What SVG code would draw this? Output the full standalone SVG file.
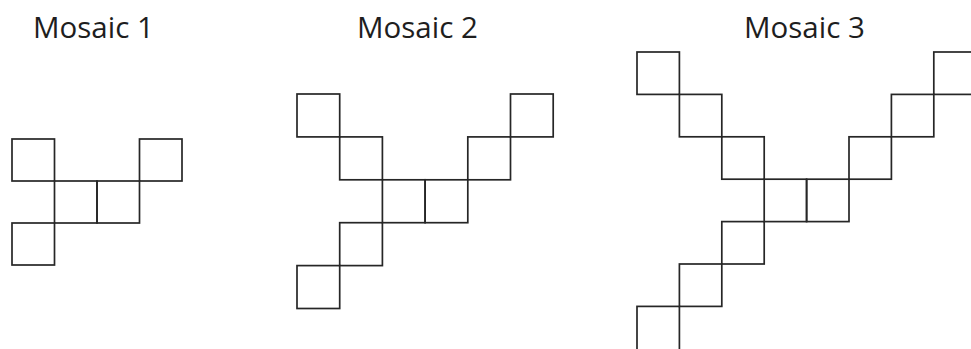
<svg xmlns="http://www.w3.org/2000/svg" width="971" height="349" viewBox="0 0 971 349">
  <style>
    .t { font-family: "Open Sans", "Liberation Sans", sans-serif; font-size: 29.5px; fill: #1e1e1e; }
    .c { fill: none; stroke: #262626; stroke-width: 1.7; }
  </style>
  <rect width="971" height="349" fill="#fff"/>
  <g id="mosaic1">
    <text class="t" x="33" y="38">Mosaic 1</text>
    <rect id="m1-a" class="c" x="12" y="139" width="42.5" height="42"/>
    <rect id="m1-b" class="c" x="139.5" y="139" width="42.5" height="42"/>
    <rect id="m1-c" class="c" x="54.5" y="181" width="42.5" height="42"/>
    <rect id="m1-d" class="c" x="97" y="181" width="42.5" height="42"/>
    <rect id="m1-e" class="c" x="12" y="223" width="42.5" height="42"/>
  </g>
  <g id="mosaic2">
    <text class="t" x="357" y="38">Mosaic 2</text>
    <rect id="m2-a" class="c" x="297" y="94" width="42.7" height="42.9"/>
    <rect id="m2-b" class="c" x="339.7" y="136.9" width="42.7" height="42.9"/>
    <rect id="m2-c" class="c" x="382.4" y="179.8" width="42.7" height="42.9"/>
    <rect id="m2-d" class="c" x="425.1" y="179.8" width="42.7" height="42.9"/>
    <rect id="m2-e" class="c" x="467.8" y="136.9" width="42.7" height="42.9"/>
    <rect id="m2-f" class="c" x="510.5" y="94" width="42.7" height="42.9"/>
    <rect id="m2-g" class="c" x="339.7" y="222.7" width="42.7" height="42.9"/>
    <rect id="m2-h" class="c" x="297" y="265.6" width="42.7" height="42.9"/>
  </g>
  <g id="mosaic3">
    <text class="t" x="744" y="38">Mosaic 3</text>
    <rect id="m3-a" class="c" x="637" y="52" width="42.4" height="42.4"/>
    <rect id="m3-b" class="c" x="679.4" y="94.4" width="42.4" height="42.4"/>
    <rect id="m3-c" class="c" x="721.8" y="136.8" width="42.4" height="42.4"/>
    <rect id="m3-d" class="c" x="764.2" y="179.2" width="42.4" height="42.4"/>
    <rect id="m3-e" class="c" x="806.6" y="179.2" width="42.4" height="42.4"/>
    <rect id="m3-f" class="c" x="849" y="136.8" width="42.4" height="42.4"/>
    <rect id="m3-g" class="c" x="891.4" y="94.4" width="42.4" height="42.4"/>
    <rect id="m3-h" class="c" x="933.8" y="52" width="42.4" height="42.4"/>
    <rect id="m3-i" class="c" x="721.8" y="221.6" width="42.4" height="42.4"/>
    <rect id="m3-j" class="c" x="679.4" y="264" width="42.4" height="42.4"/>
    <rect id="m3-k" class="c" x="637" y="306.4" width="42.4" height="46"/>
  </g>
</svg>
